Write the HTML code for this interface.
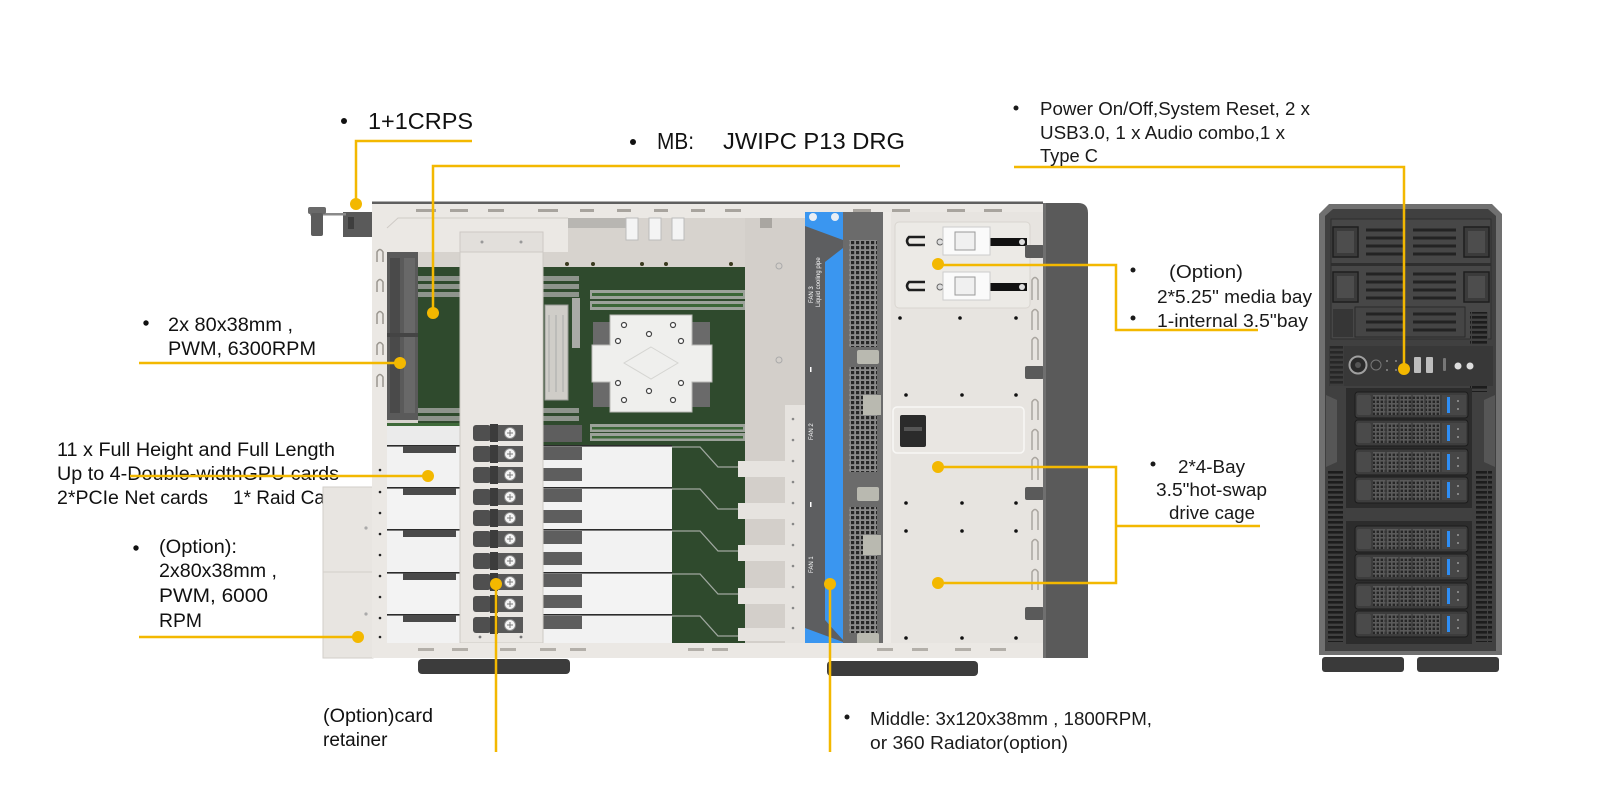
<!DOCTYPE html>
<html><head><meta charset="utf-8">
<style>
html,body{margin:0;padding:0;background:#fff;width:1600px;height:800px;overflow:hidden}
svg{display:block}
</style></head>
<body>
<svg width="1600" height="800" viewBox="0 0 1600 800" xmlns="http://www.w3.org/2000/svg">
<defs>
<pattern id="perf" width="5" height="5" patternUnits="userSpaceOnUse"><rect width="5" height="5" fill="#8a8a8a"/><rect x="1" y="1" width="3.2" height="3.2" fill="#262626"/></pattern>
<pattern id="mesh" width="4" height="4" patternUnits="userSpaceOnUse"><rect width="4" height="4" fill="#5a5a5a"/><rect x="0.6" y="0.6" width="2.4" height="2.4" fill="#262626"/></pattern>
<pattern id="vent" width="16" height="5" patternUnits="userSpaceOnUse"><rect width="16" height="5" fill="#404040"/><rect x="0" y="1" width="15" height="2.6" fill="#1c1c1c"/></pattern>
</defs>
<rect width="1600" height="800" fill="#fff"/>

<!-- LEFT TEXT (drawn under chassis) -->
<g font-family="'Liberation Sans', Arial, sans-serif" fill="#111">
<circle cx="344" cy="121" r="3" fill="#111"/>
<text x="368" y="129" font-size="23" textLength="105" lengthAdjust="spacingAndGlyphs">1+1CRPS</text>
<circle cx="633" cy="142" r="3" fill="#111"/>
<text x="657" y="149" font-size="23" textLength="37" lengthAdjust="spacingAndGlyphs">MB:</text>
<text x="723" y="149" font-size="23" textLength="182" lengthAdjust="spacingAndGlyphs">JWIPC P13 DRG</text>
<circle cx="146" cy="323" r="2.7" fill="#111"/>
<text x="168" y="331" font-size="19" textLength="125" lengthAdjust="spacingAndGlyphs">2x 80x38mm ,</text>
<text x="168" y="355" font-size="19" textLength="148" lengthAdjust="spacingAndGlyphs">PWM, 6300RPM</text>
<text x="57" y="456" font-size="19" textLength="278" lengthAdjust="spacingAndGlyphs">11 x Full Height and Full Length</text>
<text x="57" y="480" font-size="19" textLength="282" lengthAdjust="spacingAndGlyphs">Up to 4-Double-widthGPU cards</text>
<text x="57" y="504" font-size="19" textLength="151" lengthAdjust="spacingAndGlyphs">2*PCIe Net cards</text>
<text x="233" y="504" font-size="19">1* Raid Card</text>
<circle cx="136" cy="548" r="2.7" fill="#111"/>
<text x="159" y="553" font-size="19" textLength="78" lengthAdjust="spacingAndGlyphs">(Option):</text>
<text x="159" y="577" font-size="19" textLength="118" lengthAdjust="spacingAndGlyphs">2x80x38mm ,</text>
<text x="159" y="602" font-size="19" textLength="109" lengthAdjust="spacingAndGlyphs">PWM,  6000</text>
<text x="159" y="627" font-size="19" textLength="43" lengthAdjust="spacingAndGlyphs">RPM</text>
<text x="323" y="722" font-size="19" textLength="110" lengthAdjust="spacingAndGlyphs">(Option)card</text>
<text x="323" y="746" font-size="19">retainer</text>
</g>

<!-- MAIN CHASSIS -->
<!-- optional fan bracket -->
<rect x="323" y="487" width="50" height="171" fill="#e8e5e1" stroke="#d2cec9"/>
<line x1="323" y1="572" x2="372" y2="572" stroke="#d2cec9"/>
<circle cx="366" cy="528" r="1.6" fill="#aaa"/><circle cx="366" cy="614" r="1.6" fill="#aaa"/>
<!-- PSU handle -->
<rect x="343" y="212" width="29" height="25" fill="#5a5a5a"/>
<rect x="348" y="217" width="6" height="12" fill="#3e3e3e"/>
<rect x="310" y="213" width="36" height="2.5" fill="#8a8a8a"/>
<rect x="308" y="207" width="18" height="7" rx="2" fill="#6a6a6a"/>
<rect x="311" y="213" width="12" height="23" rx="2" fill="#5c5c5c"/>

<rect x="372" y="203" width="671" height="455" fill="#e6e3df"/>
<rect x="387" y="218" width="418" height="425" fill="#d7d3ce"/>
<rect x="372" y="201.5" width="671" height="2.5" fill="#5f5f5f"/>
<path d="M372,204 H568 V252 H387 V643 H372 Z" fill="#ebe8e4"/>
<path d="M387,228 L398,218 H568" stroke="#cfcbc6" fill="none"/>
<rect x="568" y="204" width="475" height="14" fill="#ebe8e4"/>
<g fill="#a8a49e">
<rect x="416" y="209" width="20" height="3"/><rect x="450" y="209" width="18" height="3"/><rect x="488" y="209" width="16" height="3"/>
<rect x="538" y="209" width="20" height="3"/><rect x="580" y="209" width="14" height="3"/><rect x="617" y="209" width="14" height="3"/>
<rect x="654" y="209" width="14" height="3"/><rect x="691" y="209" width="14" height="3"/><rect x="725" y="209" width="16" height="3"/>
<rect x="853" y="209" width="18" height="3"/><rect x="892" y="209" width="18" height="3"/><rect x="947" y="209" width="18" height="3"/><rect x="984" y="209" width="18" height="3"/>
</g>
<!-- left rail slots -->
<g fill="none" stroke="#9a968f" stroke-width="1.5">
<path d="M377,262 V252 Q380,247 383,252 V262"/><path d="M377,292 V282 Q380,277 383,282 V292"/>
<path d="M377,324 V314 Q380,309 383,314 V324"/><path d="M377,355 V345 Q380,340 383,345 V355"/>
<path d="M377,387 V377 Q380,372 383,377 V387"/>
</g>
<g fill="#222"><circle cx="380" cy="470" r="1.3"/><circle cx="380" cy="492" r="1.3"/><circle cx="380" cy="513" r="1.3"/><circle cx="380" cy="534" r="1.3"/><circle cx="380" cy="555" r="1.3"/><circle cx="380" cy="576" r="1.3"/><circle cx="380" cy="597" r="1.3"/><circle cx="380" cy="618" r="1.3"/><circle cx="380" cy="637" r="1.3"/></g>

<!-- fan -->
<rect x="387" y="252" width="31" height="168" fill="#5a5a5a"/>
<rect x="390" y="258" width="10" height="155" fill="#4a4a4a"/>
<rect x="404" y="258" width="11" height="155" fill="#686868"/>
<rect x="387" y="333" width="31" height="4" fill="#444"/>

<!-- motherboard -->
<rect x="418" y="267" width="327" height="178" fill="#2f4a2d"/>
<g fill="#3a3a1e"><circle cx="567" cy="264" r="2"/><circle cx="593" cy="264" r="2"/><circle cx="642" cy="264" r="2"/><circle cx="666" cy="264" r="2"/><circle cx="731" cy="264" r="2"/></g>
<!-- top connectors -->
<rect x="568" y="218" width="58" height="10" fill="#b8b6b2"/>
<rect x="626" y="218" width="12" height="22" fill="#f4f4f4" stroke="#bbb"/>
<rect x="649" y="218" width="12" height="22" fill="#f4f4f4" stroke="#bbb"/>
<rect x="672" y="218" width="12" height="22" fill="#f4f4f4" stroke="#bbb"/>
<!-- DIMMs left / mid -->
<g fill="#8e948c">
<rect x="418" y="276" width="42" height="5"/><rect x="418" y="284" width="42" height="5"/><rect x="418" y="292" width="42" height="5"/>
<rect x="543" y="276" width="36" height="5"/><rect x="543" y="284" width="36" height="5"/><rect x="543" y="292" width="36" height="5"/>
<rect x="418" y="408" width="42" height="5"/><rect x="418" y="416" width="42" height="5"/>
<rect x="543" y="408" width="36" height="5"/><rect x="543" y="416" width="36" height="5"/>
</g>
<rect x="545" y="305" width="23" height="95" fill="#cfcdc8" stroke="#9a9a96"/>
<g stroke="#aaa"><line x1="549" y1="315" x2="549" y2="392"/><line x1="556" y1="315" x2="556" y2="392"/><line x1="563" y1="315" x2="563" y2="392"/></g>
<rect x="572" y="298" width="8" height="50" fill="#a9aaa6"/>
<!-- main DIMMs -->
<rect x="590" y="290" width="155" height="9" fill="#9ca29a"/><rect x="592" y="293" width="151" height="3" fill="#3b6637"/>
<rect x="590" y="301" width="155" height="9" fill="#9ca29a"/><rect x="592" y="304" width="151" height="3" fill="#3b6637"/>
<rect x="590" y="424" width="155" height="8" fill="#9ca29a"/><rect x="592" y="427" width="151" height="2.5" fill="#3b6637"/>
<rect x="590" y="433" width="155" height="8" fill="#9ca29a"/><rect x="592" y="436" width="151" height="2.5" fill="#3b6637"/>
<!-- heatsink -->
<rect x="593" y="322" width="20" height="24" fill="#6a6a6a"/><rect x="690" y="322" width="20" height="24" fill="#6a6a6a"/>
<rect x="593" y="382" width="20" height="25" fill="#6a6a6a"/><rect x="690" y="382" width="20" height="25" fill="#6a6a6a"/>
<path d="M610,315 H692 V345 H712 V382 H692 V412 H610 V382 H592 V345 H610 Z" fill="#efefed" stroke="#b8b8b5"/>
<path d="M651,347 L678,363 L651,379 L624,363 Z" fill="none" stroke="#d5d5d2"/>
<g fill="#fff" stroke="#444" stroke-width="1.2">
<circle cx="624" cy="325" r="2.5"/><circle cx="673" cy="325" r="2.5"/><circle cx="649" cy="334" r="2.5"/>
<circle cx="618" cy="341" r="2.5"/><circle cx="681" cy="341" r="2.5"/><circle cx="618" cy="383" r="2.5"/>
<circle cx="681" cy="383" r="2.5"/><circle cx="649" cy="391" r="2.5"/><circle cx="624" cy="400" r="2.5"/><circle cx="673" cy="400" r="2.5"/>
</g>
<!-- right of MB floor & bracket -->
<rect x="745" y="218" width="60" height="425" fill="#d3cfca"/>
<rect x="760" y="218" width="12" height="10" fill="#a9a6a1"/>
<circle cx="779" cy="266" r="3" fill="none" stroke="#aaa"/><circle cx="779" cy="360" r="3" fill="none" stroke="#aaa"/>
<rect x="785" y="405" width="20" height="238" fill="#e6e3df"/>
<g fill="#888"><circle cx="793" cy="419" r="1.3"/><circle cx="793" cy="440" r="1.3"/><circle cx="793" cy="461" r="1.3"/><circle cx="793" cy="482" r="1.3"/><circle cx="793" cy="503" r="1.3"/><circle cx="793" cy="524" r="1.3"/><circle cx="793" cy="545" r="1.3"/><circle cx="793" cy="566" r="1.3"/><circle cx="793" cy="587" r="1.3"/><circle cx="793" cy="608" r="1.3"/><circle cx="793" cy="628" r="1.3"/></g>

<!-- card area -->
<rect x="387" y="425" width="73" height="20" fill="#ebebeb"/>
<rect x="387" y="423" width="73" height="3" fill="#3f6a3a"/>
<rect x="543" y="425" width="39" height="17" fill="#5e5e5e"/>
<rect x="672" y="445" width="73" height="198" fill="#2f4a2d"/>
<g>
<rect x="387" y="445" width="285" height="42" fill="#f2f2f2"/>
<rect x="387" y="487" width="285" height="42" fill="#f3f3f3"/>
<rect x="387" y="529" width="285" height="43" fill="#f2f2f2"/>
<rect x="387" y="572" width="285" height="42" fill="#f3f3f3"/>
<rect x="387" y="614" width="285" height="29" fill="#f2f2f2"/>
</g>
<g fill="#2b2b2b">
<rect x="387" y="445" width="285" height="1.6"/><rect x="387" y="487" width="285" height="1.6"/><rect x="387" y="529" width="285" height="1.6"/><rect x="387" y="572" width="285" height="1.6"/><rect x="387" y="614" width="285" height="1.6"/>
</g>
<g fill="#4a4a4a">
<rect x="403" y="446" width="53" height="7"/><rect x="403" y="488" width="53" height="7"/><rect x="403" y="530" width="53" height="7"/><rect x="403" y="573" width="53" height="7"/><rect x="403" y="615" width="53" height="7"/>
</g>
<g fill="#5e5e5e">
<rect x="543" y="447" width="39" height="13"/><rect x="543" y="468" width="39" height="13"/>
<rect x="543" y="489" width="39" height="13"/><rect x="543" y="510" width="39" height="13"/>
<rect x="543" y="531" width="39" height="13"/><rect x="543" y="552" width="39" height="13"/>
<rect x="543" y="574" width="39" height="13"/><rect x="543" y="595" width="39" height="13"/>
<rect x="543" y="616" width="39" height="13"/>
</g>
<g fill="none" stroke="#a0a8a0" stroke-width="1.3">
<path d="M672,447 H700 L718,467 H745"/><path d="M672,489 H700 L718,509 H745"/><path d="M672,531 H700 L718,551 H745"/><path d="M672,574 H700 L718,594 H745"/><path d="M672,616 H700 L718,636 H745"/>
</g>
<g fill="#e6e3df">
<rect x="738" y="461" width="47" height="16"/><rect x="738" y="503" width="47" height="16"/><rect x="738" y="545" width="47" height="16"/><rect x="738" y="588" width="47" height="16"/><rect x="738" y="628" width="47" height="13"/>
</g>

<!-- card retainer -->
<rect x="460" y="232" width="83" height="411" fill="#e9e6e2" stroke="#cdc9c4"/>
<rect x="460" y="232" width="83" height="20" fill="#e2dfdb" stroke="#cdc9c4"/>
<circle cx="482" cy="242" r="1.5" fill="#999"/><circle cx="521" cy="242" r="1.5" fill="#999"/>
<circle cx="480" cy="637" r="1.4" fill="#777"/><circle cx="521" cy="637" r="1.4" fill="#777"/>
<!-- clips -->
<g id="clips">
<g transform="translate(0,425)"><rect x="473" y="0" width="18" height="16" rx="3" fill="#4f4f4f"/><rect x="490" y="-1" width="8" height="18" fill="#3c3c3c"/><rect x="498" y="0" width="25" height="16" fill="#585858"/><circle cx="510" cy="8" r="5.5" fill="#f5f5f5" stroke="#888"/><path d="M510,5 V11 M507,8 H513" stroke="#777" stroke-width="1"/></g>
<g transform="translate(0,446)"><rect x="473" y="0" width="18" height="16" rx="3" fill="#4f4f4f"/><rect x="490" y="-1" width="8" height="18" fill="#3c3c3c"/><rect x="498" y="0" width="25" height="16" fill="#585858"/><circle cx="510" cy="8" r="5.5" fill="#f5f5f5" stroke="#888"/><path d="M510,5 V11 M507,8 H513" stroke="#777" stroke-width="1"/></g>
<g transform="translate(0,467)"><rect x="473" y="0" width="18" height="16" rx="3" fill="#4f4f4f"/><rect x="490" y="-1" width="8" height="18" fill="#3c3c3c"/><rect x="498" y="0" width="25" height="16" fill="#585858"/><circle cx="510" cy="8" r="5.5" fill="#f5f5f5" stroke="#888"/><path d="M510,5 V11 M507,8 H513" stroke="#777" stroke-width="1"/></g>
<g transform="translate(0,489)"><rect x="473" y="0" width="18" height="16" rx="3" fill="#4f4f4f"/><rect x="490" y="-1" width="8" height="18" fill="#3c3c3c"/><rect x="498" y="0" width="25" height="16" fill="#585858"/><circle cx="510" cy="8" r="5.5" fill="#f5f5f5" stroke="#888"/><path d="M510,5 V11 M507,8 H513" stroke="#777" stroke-width="1"/></g>
<g transform="translate(0,510)"><rect x="473" y="0" width="18" height="16" rx="3" fill="#4f4f4f"/><rect x="490" y="-1" width="8" height="18" fill="#3c3c3c"/><rect x="498" y="0" width="25" height="16" fill="#585858"/><circle cx="510" cy="8" r="5.5" fill="#f5f5f5" stroke="#888"/><path d="M510,5 V11 M507,8 H513" stroke="#777" stroke-width="1"/></g>
<g transform="translate(0,531)"><rect x="473" y="0" width="18" height="16" rx="3" fill="#4f4f4f"/><rect x="490" y="-1" width="8" height="18" fill="#3c3c3c"/><rect x="498" y="0" width="25" height="16" fill="#585858"/><circle cx="510" cy="8" r="5.5" fill="#f5f5f5" stroke="#888"/><path d="M510,5 V11 M507,8 H513" stroke="#777" stroke-width="1"/></g>
<g transform="translate(0,553)"><rect x="473" y="0" width="18" height="16" rx="3" fill="#4f4f4f"/><rect x="490" y="-1" width="8" height="18" fill="#3c3c3c"/><rect x="498" y="0" width="25" height="16" fill="#585858"/><circle cx="510" cy="8" r="5.5" fill="#f5f5f5" stroke="#888"/><path d="M510,5 V11 M507,8 H513" stroke="#777" stroke-width="1"/></g>
<g transform="translate(0,574)"><rect x="473" y="0" width="18" height="16" rx="3" fill="#4f4f4f"/><rect x="490" y="-1" width="8" height="18" fill="#3c3c3c"/><rect x="498" y="0" width="25" height="16" fill="#585858"/><circle cx="510" cy="8" r="5.5" fill="#f5f5f5" stroke="#888"/><path d="M510,5 V11 M507,8 H513" stroke="#777" stroke-width="1"/></g>
<g transform="translate(0,596)"><rect x="473" y="0" width="18" height="16" rx="3" fill="#4f4f4f"/><rect x="490" y="-1" width="8" height="18" fill="#3c3c3c"/><rect x="498" y="0" width="25" height="16" fill="#585858"/><circle cx="510" cy="8" r="5.5" fill="#f5f5f5" stroke="#888"/><path d="M510,5 V11 M507,8 H513" stroke="#777" stroke-width="1"/></g>
<g transform="translate(0,617)"><rect x="473" y="0" width="18" height="16" rx="3" fill="#4f4f4f"/><rect x="490" y="-1" width="8" height="18" fill="#3c3c3c"/><rect x="498" y="0" width="25" height="16" fill="#585858"/><circle cx="510" cy="8" r="5.5" fill="#f5f5f5" stroke="#888"/><path d="M510,5 V11 M507,8 H513" stroke="#777" stroke-width="1"/></g>
</g>

<!-- fan wall -->
<rect x="805" y="212" width="38" height="440" fill="#5d5e60"/>
<polygon points="805,212 843,212 843,240 805,226" fill="#3a96f0"/>
<polygon points="825,262 843,248 843,640 825,620" fill="#3a96f0"/>
<polygon points="805,652 843,652 843,642 805,628" fill="#3a96f0"/>
<g fill="#e8eef5"><circle cx="813" cy="217" r="4"/><circle cx="835" cy="217" r="4"/><circle cx="813" cy="647" r="4"/><circle cx="835" cy="647" r="4"/></g>
<g font-family="'Liberation Sans', Arial, sans-serif" fill="#fff" font-size="6">
<text transform="translate(813,303) rotate(-90)">FAN 3</text>
<text transform="translate(820,307) rotate(-90)">Liquid cooling pipe</text>
<text transform="translate(813,440) rotate(-90)">FAN 2</text>
<text transform="translate(813,573) rotate(-90)">FAN 1</text>
</g>
<rect x="810" y="367" width="1.5" height="5" fill="#fff"/><rect x="810" y="502" width="1.5" height="5" fill="#fff"/>
<!-- grille -->
<rect x="843" y="212" width="40" height="438" fill="#6b6b6b"/>
<rect x="849" y="240" width="28" height="107" fill="url(#perf)"/>
<rect x="849" y="367" width="28" height="105" fill="url(#perf)"/>
<rect x="849" y="507" width="28" height="126" fill="url(#perf)"/>
<g fill="#b9b9b0"><rect x="857" y="350" width="22" height="14" rx="2"/><rect x="857" y="487" width="22" height="14" rx="2"/><rect x="857" y="633" width="22" height="12" rx="2"/><rect x="863" y="395" width="18" height="20"/><rect x="863" y="535" width="18" height="20"/></g>

<!-- drive cage panel -->
<rect x="883" y="212" width="160" height="436" fill="#e7e4e0"/>
<rect x="883" y="212" width="8" height="436" fill="#edeae6"/>
<rect x="895" y="222" width="135" height="86" rx="4" fill="#eceae6" stroke="#d9d5d0"/>
<!-- slot 1 -->
<path d="M925,237 H909 Q905,241 909,245 H925" fill="none" stroke="#1e1e1e" stroke-width="2.5"/>
<circle cx="940" cy="242" r="3" fill="#ddd" stroke="#666"/>
<rect x="960" y="238" width="67" height="8" fill="#111"/>
<rect x="943" y="227" width="47" height="28" fill="#fafafa" stroke="#ccc"/>
<rect x="955" y="232" width="20" height="18" fill="#f0f0f0" stroke="#999"/>
<circle cx="1022" cy="242" r="3" fill="#ddd"/>
<!-- slot 2 -->
<path d="M925,282 H909 Q905,286 909,290 H925" fill="none" stroke="#1e1e1e" stroke-width="2.5"/>
<circle cx="940" cy="287" r="3" fill="#ddd" stroke="#666"/>
<rect x="960" y="283" width="67" height="8" fill="#111"/>
<rect x="943" y="272" width="47" height="28" fill="#fafafa" stroke="#ccc"/>
<rect x="955" y="277" width="20" height="18" fill="#f0f0f0" stroke="#999"/>
<circle cx="1022" cy="287" r="3" fill="#ddd"/>
<!-- holes -->
<g fill="#111">
<circle cx="900" cy="318" r="1.8"/><circle cx="960" cy="318" r="1.8"/><circle cx="1016" cy="318" r="1.8"/>
<circle cx="906" cy="395" r="1.8"/><circle cx="962" cy="395" r="1.8"/><circle cx="1016" cy="395" r="1.8"/>
<circle cx="906" cy="503" r="1.8"/><circle cx="962" cy="503" r="1.8"/><circle cx="1016" cy="503" r="1.8"/>
<circle cx="906" cy="531" r="1.8"/><circle cx="962" cy="531" r="1.8"/><circle cx="1016" cy="531" r="1.8"/>
<circle cx="906" cy="638" r="1.8"/><circle cx="962" cy="638" r="1.8"/><circle cx="1016" cy="638" r="1.8"/>
</g>
<rect x="893" y="407" width="131" height="46" rx="4" fill="#e9e6e2" stroke="#f8f7f5" stroke-width="1.5"/>
<rect x="900" y="415" width="26" height="32" rx="2" fill="#2b2b2b"/>
<rect x="904" y="427" width="18" height="4" fill="#555"/>
<!-- cage right edge U marks and tabs -->
<g fill="none" stroke="#a9a59f" stroke-width="1.5">
<path d="M1032,300 V280 Q1035,275 1038,280 V300"/><path d="M1032,330 V312 Q1035,307 1038,312 V330"/>
<path d="M1032,360 V340 Q1035,335 1038,340 V360"/><path d="M1032,420 V402 Q1035,397 1038,402 V420"/>
<path d="M1032,450 V432 Q1035,427 1038,432 V450"/><path d="M1032,480 V460 Q1035,455 1038,460 V480"/>
<path d="M1032,530 V512 Q1035,507 1038,512 V530"/><path d="M1032,560 V542 Q1035,537 1038,542 V560"/>
<path d="M1032,590 V572 Q1035,567 1038,572 V590"/>
</g>
<g fill="#5a5a5a"><rect x="1025" y="245" width="19" height="13" rx="2"/><rect x="1025" y="366" width="19" height="13" rx="2"/><rect x="1025" y="487" width="19" height="13" rx="2"/><rect x="1025" y="607" width="19" height="13" rx="2"/></g>

<!-- bottom rail -->
<rect x="372" y="643" width="671" height="15" fill="#ebe8e4"/>
<g fill="#b3afa9">
<rect x="418" y="648" width="16" height="3"/><rect x="452" y="648" width="16" height="3"/><rect x="500" y="648" width="16" height="3"/><rect x="540" y="648" width="16" height="3"/>
<rect x="570" y="648" width="16" height="3"/><rect x="688" y="648" width="16" height="3"/><rect x="712" y="648" width="16" height="3"/>
<rect x="877" y="648" width="16" height="3"/><rect x="912" y="648" width="16" height="3"/><rect x="955" y="648" width="16" height="3"/><rect x="990" y="648" width="16" height="3"/>
</g>
<!-- front dark panel -->
<path d="M1043,203 H1078 Q1088,203 1088,213 V658 H1043 Z" fill="#5a5a5a"/>
<rect x="1043" y="203" width="3" height="455" fill="#6f6f6f"/>
<!-- feet -->
<rect x="418" y="659" width="152" height="15" rx="4" fill="#3c3c3c"/>
<rect x="827" y="661" width="151" height="15" rx="4" fill="#3c3c3c"/>

<!-- TOWER FRONT -->
<path d="M1319,214 L1329,204 H1492 L1502,214 V655 H1319 Z" fill="#707070"/>
<path d="M1325,216 L1333,209 H1488 L1496,216 V651 H1325 Z" fill="#404040"/>
<rect x="1331" y="219" width="160" height="120" fill="#474747" stroke="#2e2e2e"/>
<g fill="#3b3b3b" stroke="#1f1f1f" stroke-width="1.5">
<rect x="1333" y="227" width="25" height="30"/><rect x="1333" y="272" width="25" height="30"/>
<rect x="1464" y="227" width="25" height="30"/><rect x="1464" y="272" width="25" height="30"/>
</g>
<g fill="#4d4d4d"><rect x="1337" y="231" width="17" height="22"/><rect x="1337" y="276" width="17" height="22"/><rect x="1468" y="231" width="17" height="22"/><rect x="1468" y="276" width="17" height="22"/></g>
<g stroke="#232323" stroke-width="3">
<line x1="1366" y1="230" x2="1404" y2="230"/><line x1="1413" y1="230" x2="1456" y2="230"/>
<line x1="1366" y1="238" x2="1404" y2="238"/><line x1="1413" y1="238" x2="1456" y2="238"/>
<line x1="1366" y1="246" x2="1404" y2="246"/><line x1="1413" y1="246" x2="1456" y2="246"/>
<line x1="1366" y1="254" x2="1404" y2="254"/><line x1="1413" y1="254" x2="1456" y2="254"/>
<line x1="1366" y1="274" x2="1404" y2="274"/><line x1="1413" y1="274" x2="1456" y2="274"/>
<line x1="1366" y1="282" x2="1404" y2="282"/><line x1="1413" y1="282" x2="1456" y2="282"/>
<line x1="1366" y1="290" x2="1404" y2="290"/><line x1="1413" y1="290" x2="1456" y2="290"/>
<line x1="1366" y1="298" x2="1404" y2="298"/><line x1="1413" y1="298" x2="1456" y2="298"/>
</g>
<rect x="1331" y="263" width="160" height="3" fill="#2e2e2e"/>
<rect x="1355" y="307" width="110" height="30" fill="#454545" stroke="#2a2a2a"/>
<g stroke="#232323" stroke-width="3">
<line x1="1366" y1="314" x2="1404" y2="314"/><line x1="1413" y1="314" x2="1456" y2="314"/>
<line x1="1366" y1="322" x2="1404" y2="322"/><line x1="1413" y1="322" x2="1456" y2="322"/>
<line x1="1366" y1="330" x2="1404" y2="330"/><line x1="1413" y1="330" x2="1456" y2="330"/>
</g>
<rect x="1333" y="309" width="20" height="28" fill="#363636"/>
<rect x="1470" y="312" width="18" height="80" fill="url(#vent)"/>
<!-- control strip -->
<rect x="1329" y="346" width="164" height="40" fill="#383838"/>
<circle cx="1358" cy="365" r="8.5" fill="#2a2a2a" stroke="#a0a0a0" stroke-width="2"/>
<circle cx="1358" cy="365" r="3" fill="#555"/>
<circle cx="1376" cy="365" r="5" fill="#333" stroke="#777"/>
<g fill="#888"><circle cx="1387" cy="361" r="1"/><circle cx="1396" cy="361" r="1"/><circle cx="1387" cy="370" r="1"/><circle cx="1396" cy="370" r="1"/></g>
<rect x="1414" y="357" width="7" height="16" rx="1" fill="#bdbdbd"/><rect x="1426" y="357" width="7" height="16" rx="1" fill="#bdbdbd"/>
<rect x="1443" y="358" width="3" height="13" rx="1" fill="#777"/>
<circle cx="1458" cy="366" r="3.5" fill="#ddd"/><circle cx="1470" cy="366" r="3.5" fill="#ddd"/>
<!-- side vents & handles -->
<rect x="1328" y="470" width="16" height="172" fill="url(#vent)"/>
<rect x="1476" y="470" width="16" height="172" fill="url(#vent)"/>
<rect x="1330" y="346" width="14" height="40" fill="url(#vent)" opacity="0.6"/>
<polygon points="1326,395 1337,400 1337,462 1326,467" fill="#565656"/>
<polygon points="1495,395 1484,400 1484,462 1495,467" fill="#565656"/>
<!-- drive groups -->
<rect x="1346" y="388" width="126" height="120" fill="#2c2c2c"/>
<rect x="1346" y="521" width="126" height="123" fill="#2c2c2c"/>
<g id="bays">
<g transform="translate(0,392)"><rect x="1355" y="0" width="113" height="26" rx="3" fill="#3d3d3d" stroke="#1c1c1c"/><rect x="1357" y="3" width="14" height="20" rx="2" fill="#4a4a4a"/><rect x="1373" y="3" width="67" height="20" fill="url(#mesh)"/><g stroke="#3d3d3d" stroke-width="1.5"><line x1="1386" y1="3" x2="1386" y2="23"/><line x1="1399" y1="3" x2="1399" y2="23"/><line x1="1412" y1="3" x2="1412" y2="23"/><line x1="1425" y1="3" x2="1425" y2="23"/></g><rect x="1442" y="3" width="24" height="20" fill="#474747"/><rect x="1447" y="5" width="3" height="16" fill="#2e8ef5"/><circle cx="1458" cy="9" r="1" fill="#999"/><circle cx="1458" cy="17" r="1" fill="#999"/></g>
<g transform="translate(0,420)"><rect x="1355" y="0" width="113" height="26" rx="3" fill="#3d3d3d" stroke="#1c1c1c"/><rect x="1357" y="3" width="14" height="20" rx="2" fill="#4a4a4a"/><rect x="1373" y="3" width="67" height="20" fill="url(#mesh)"/><g stroke="#3d3d3d" stroke-width="1.5"><line x1="1386" y1="3" x2="1386" y2="23"/><line x1="1399" y1="3" x2="1399" y2="23"/><line x1="1412" y1="3" x2="1412" y2="23"/><line x1="1425" y1="3" x2="1425" y2="23"/></g><rect x="1442" y="3" width="24" height="20" fill="#474747"/><rect x="1447" y="5" width="3" height="16" fill="#2e8ef5"/><circle cx="1458" cy="9" r="1" fill="#999"/><circle cx="1458" cy="17" r="1" fill="#999"/></g>
<g transform="translate(0,449)"><rect x="1355" y="0" width="113" height="26" rx="3" fill="#3d3d3d" stroke="#1c1c1c"/><rect x="1357" y="3" width="14" height="20" rx="2" fill="#4a4a4a"/><rect x="1373" y="3" width="67" height="20" fill="url(#mesh)"/><g stroke="#3d3d3d" stroke-width="1.5"><line x1="1386" y1="3" x2="1386" y2="23"/><line x1="1399" y1="3" x2="1399" y2="23"/><line x1="1412" y1="3" x2="1412" y2="23"/><line x1="1425" y1="3" x2="1425" y2="23"/></g><rect x="1442" y="3" width="24" height="20" fill="#474747"/><rect x="1447" y="5" width="3" height="16" fill="#2e8ef5"/><circle cx="1458" cy="9" r="1" fill="#999"/><circle cx="1458" cy="17" r="1" fill="#999"/></g>
<g transform="translate(0,477)"><rect x="1355" y="0" width="113" height="26" rx="3" fill="#3d3d3d" stroke="#1c1c1c"/><rect x="1357" y="3" width="14" height="20" rx="2" fill="#4a4a4a"/><rect x="1373" y="3" width="67" height="20" fill="url(#mesh)"/><g stroke="#3d3d3d" stroke-width="1.5"><line x1="1386" y1="3" x2="1386" y2="23"/><line x1="1399" y1="3" x2="1399" y2="23"/><line x1="1412" y1="3" x2="1412" y2="23"/><line x1="1425" y1="3" x2="1425" y2="23"/></g><rect x="1442" y="3" width="24" height="20" fill="#474747"/><rect x="1447" y="5" width="3" height="16" fill="#2e8ef5"/><circle cx="1458" cy="9" r="1" fill="#999"/><circle cx="1458" cy="17" r="1" fill="#999"/></g>
<g transform="translate(0,526)"><rect x="1355" y="0" width="113" height="26" rx="3" fill="#3d3d3d" stroke="#1c1c1c"/><rect x="1357" y="3" width="14" height="20" rx="2" fill="#4a4a4a"/><rect x="1373" y="3" width="67" height="20" fill="url(#mesh)"/><g stroke="#3d3d3d" stroke-width="1.5"><line x1="1386" y1="3" x2="1386" y2="23"/><line x1="1399" y1="3" x2="1399" y2="23"/><line x1="1412" y1="3" x2="1412" y2="23"/><line x1="1425" y1="3" x2="1425" y2="23"/></g><rect x="1442" y="3" width="24" height="20" fill="#474747"/><rect x="1447" y="5" width="3" height="16" fill="#2e8ef5"/><circle cx="1458" cy="9" r="1" fill="#999"/><circle cx="1458" cy="17" r="1" fill="#999"/></g>
<g transform="translate(0,554)"><rect x="1355" y="0" width="113" height="26" rx="3" fill="#3d3d3d" stroke="#1c1c1c"/><rect x="1357" y="3" width="14" height="20" rx="2" fill="#4a4a4a"/><rect x="1373" y="3" width="67" height="20" fill="url(#mesh)"/><g stroke="#3d3d3d" stroke-width="1.5"><line x1="1386" y1="3" x2="1386" y2="23"/><line x1="1399" y1="3" x2="1399" y2="23"/><line x1="1412" y1="3" x2="1412" y2="23"/><line x1="1425" y1="3" x2="1425" y2="23"/></g><rect x="1442" y="3" width="24" height="20" fill="#474747"/><rect x="1447" y="5" width="3" height="16" fill="#2e8ef5"/><circle cx="1458" cy="9" r="1" fill="#999"/><circle cx="1458" cy="17" r="1" fill="#999"/></g>
<g transform="translate(0,583)"><rect x="1355" y="0" width="113" height="26" rx="3" fill="#3d3d3d" stroke="#1c1c1c"/><rect x="1357" y="3" width="14" height="20" rx="2" fill="#4a4a4a"/><rect x="1373" y="3" width="67" height="20" fill="url(#mesh)"/><g stroke="#3d3d3d" stroke-width="1.5"><line x1="1386" y1="3" x2="1386" y2="23"/><line x1="1399" y1="3" x2="1399" y2="23"/><line x1="1412" y1="3" x2="1412" y2="23"/><line x1="1425" y1="3" x2="1425" y2="23"/></g><rect x="1442" y="3" width="24" height="20" fill="#474747"/><rect x="1447" y="5" width="3" height="16" fill="#2e8ef5"/><circle cx="1458" cy="9" r="1" fill="#999"/><circle cx="1458" cy="17" r="1" fill="#999"/></g>
<g transform="translate(0,611)"><rect x="1355" y="0" width="113" height="26" rx="3" fill="#3d3d3d" stroke="#1c1c1c"/><rect x="1357" y="3" width="14" height="20" rx="2" fill="#4a4a4a"/><rect x="1373" y="3" width="67" height="20" fill="url(#mesh)"/><g stroke="#3d3d3d" stroke-width="1.5"><line x1="1386" y1="3" x2="1386" y2="23"/><line x1="1399" y1="3" x2="1399" y2="23"/><line x1="1412" y1="3" x2="1412" y2="23"/><line x1="1425" y1="3" x2="1425" y2="23"/></g><rect x="1442" y="3" width="24" height="20" fill="#474747"/><rect x="1447" y="5" width="3" height="16" fill="#2e8ef5"/><circle cx="1458" cy="9" r="1" fill="#999"/><circle cx="1458" cy="17" r="1" fill="#999"/></g>
</g>
<rect x="1322" y="657" width="82" height="15" rx="3" fill="#3a3a3a"/>
<rect x="1417" y="657" width="82" height="15" rx="3" fill="#3a3a3a"/>

<!-- LEADER LINES -->
<g fill="none" stroke="#f3b800" stroke-width="2.5">
<polyline points="472,141 356,141 356,204"/>
<polyline points="900,166 433,166 433,313"/>
<line x1="139" y1="363" x2="400" y2="363"/>
<line x1="130" y1="476" x2="428" y2="476"/>
<line x1="139" y1="637" x2="358" y2="637"/>
<line x1="496" y1="584" x2="496" y2="752"/>
<line x1="830" y1="584" x2="830" y2="752"/>
<polyline points="938,265 1116,265 1116,330 1258,330"/>
<polyline points="938,467 1116,467 1116,583 938,583"/>
<line x1="1116" y1="526" x2="1260" y2="526"/>
<polyline points="1014,167 1404,167 1404,369"/>
</g>
<g fill="#f3b800">
<circle cx="356" cy="204" r="6"/><circle cx="433" cy="313" r="6"/><circle cx="400" cy="363" r="6"/>
<circle cx="428" cy="476" r="6"/><circle cx="358" cy="637" r="6"/><circle cx="496" cy="584" r="6"/>
<circle cx="830" cy="584" r="6"/><circle cx="938" cy="264" r="6"/><circle cx="938" cy="467" r="6"/>
<circle cx="938" cy="583" r="6"/><circle cx="1404" cy="369" r="6"/>
</g>

<!-- RIGHT TEXT -->
<g font-family="'Liberation Sans', Arial, sans-serif" fill="#1a1a1a" font-size="18">
<circle cx="1016" cy="108" r="2.5"/>
<text x="1040" y="115" textLength="270" lengthAdjust="spacingAndGlyphs">Power On/Off,System Reset, 2 x</text>
<text x="1040" y="139" textLength="245" lengthAdjust="spacingAndGlyphs">USB3.0, 1 x Audio combo,1 x</text>
<text x="1040" y="162" textLength="58" lengthAdjust="spacingAndGlyphs">Type C</text>
<circle cx="1133" cy="270" r="2.5"/>
<text x="1169" y="278" textLength="74" lengthAdjust="spacingAndGlyphs">(Option)</text>
<text x="1157" y="303" textLength="155" lengthAdjust="spacingAndGlyphs">2*5.25" media bay</text>
<circle cx="1133" cy="318" r="2.5"/>
<text x="1157" y="327" textLength="151" lengthAdjust="spacingAndGlyphs">1-internal 3.5"bay</text>
<circle cx="1153" cy="464" r="2.5"/>
<text x="1178" y="473" textLength="67" lengthAdjust="spacingAndGlyphs">2*4-Bay</text>
<text x="1156" y="496" textLength="111" lengthAdjust="spacingAndGlyphs">3.5"hot-swap</text>
<text x="1169" y="519" textLength="86" lengthAdjust="spacingAndGlyphs">drive cage</text>
<circle cx="847" cy="717" r="2.5"/>
<text x="870" y="725" textLength="282" lengthAdjust="spacingAndGlyphs">Middle: 3x120x38mm , 1800RPM,</text>
<text x="870" y="749" textLength="198" lengthAdjust="spacingAndGlyphs">or 360 Radiator(option)</text>
</g>
</svg>
</body></html>
